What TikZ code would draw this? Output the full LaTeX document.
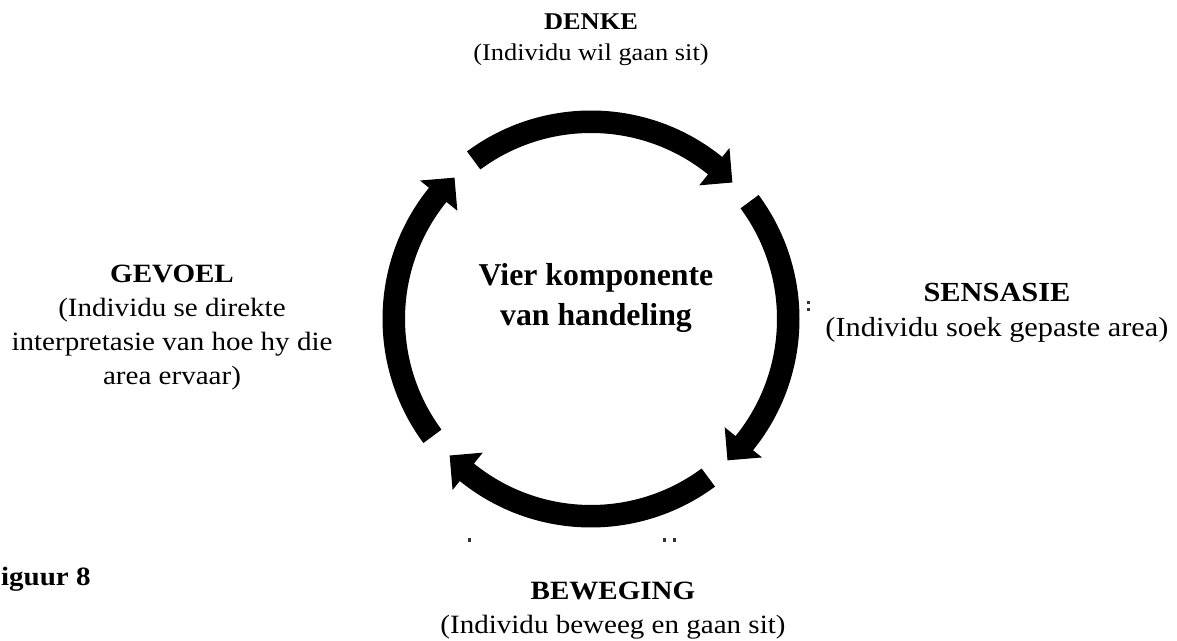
\documentclass[tikz,border=0pt]{standalone}
\usepackage{fontspec}
\setmainfont{Liberation Serif}
\newfontfamily\widefont[FakeStretch=1.1]{Liberation Serif}
\usetikzlibrary{calc}

% one thick clockwise arc with a right-angled head:
% #1 tail angle, #2 angle of the head's base, #3 tip angle
\newcommand\cyclearrow[3]{%
  \fill[cyclefill] (#1:208.5) arc[start angle=#1, end angle=#2, radius=208.5]
    -- (#2:220) -- (#3:196.5) -- (#2:172) -- (#2:186)
    arc[start angle=#2, end angle=#1, radius=186] -- cycle;}

\begin{document}
\begin{tikzpicture}[x=0.5pt, y=0.5pt,
  cyclefill/.style={black},
  title/.style={font=\widefont\fontsize{13.2}{17}\selectfont\bfseries, inner sep=0pt},
  label/.style={font=\widefont\fontsize{13.2}{17}\selectfont, align=center, inner sep=0pt},
  smalllabel/.style={label, font=\widefont\fontsize{12}{15.5}\selectfont},
  largelabel/.style={label, font=\widefont\fontsize{13.8}{17.2}\selectfont},
  centre/.style={font=\fontsize{15.9}{20}\selectfont\bfseries, align=center, inner sep=0pt},
  speck/.style={fill=black!80}]
\useasboundingbox (0,0) rectangle (1177,641);

% the cycle of four arrows
\coordinate (c) at (591,322);
\begin{scope}[shift={(c)}]
  \cyclearrow{126.5}{51}{44}
  \cyclearrow{36.5}{-39}{-46}
  \cyclearrow{-53.5}{-129}{-136}
  \cyclearrow{216.5}{141}{134}
\end{scope}

% centre text
\node[centre, anchor=north] (centretext) at (596,378) {Vier komponente\\van handeling};

% the four components
\node[smalllabel, anchor=north] (denke) at (591,628)
  {\textbf{DENKE}\\(Individu wil gaan sit)};
\node[largelabel, anchor=north] (sensasie) at (997,358)
  {\textbf{SENSASIE}\\(Individu soek gepaste area)};
\node[label, anchor=north] (beweging) at (613,59.5)
  {\textbf{BEWEGING}\\(Individu beweeg en gaan sit)};
\node[label, anchor=north] (gevoel) at (172,376.5)
  {\textbf{GEVOEL}\\(Individu se direkte\\interpretasie van hoe hy die\\area ervaar)};

% caption, cut at the left edge
\node[title, anchor=north east] (caption) at (91,74) {Figuur 8};

% small leftover specks
\fill[speck] (807,337) rectangle (809.5,340);
\fill[speck] (807,330) rectangle (809.5,333);
\fill[speck] (468,99) rectangle (471,103);
\fill[speck] (663,99) rectangle (666,103);
\fill[speck] (673,99) rectangle (676,103);
\end{tikzpicture}
\end{document}
